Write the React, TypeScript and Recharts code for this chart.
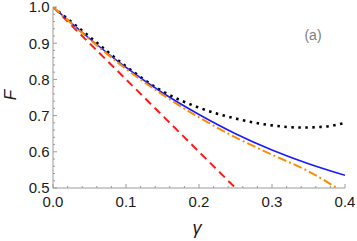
import React from 'react';
import { LineChart, Line, XAxis, YAxis } from 'recharts';

// gamma values and fidelity curves
const gammaBlack = [0, 0.05, 0.1, 0.15, 0.2, 0.25, 0.3, 0.34, 0.37, 0.4];
const fBlack = [1.0, 0.918, 0.836, 0.767, 0.722, 0.692, 0.673, 0.667, 0.669, 0.68];

const gammaBlue = [0, 0.05, 0.1, 0.15, 0.2, 0.25, 0.3, 0.35, 0.4];
const fBlue = [1.0, 0.913, 0.833, 0.763, 0.703, 0.65, 0.605, 0.567, 0.535];

const gammaOrange = [0, 0.05, 0.1, 0.15, 0.2, 0.25, 0.3, 0.35, 0.389];
const fOrange = [1.0, 0.911, 0.829, 0.758, 0.695, 0.64, 0.592, 0.546, 0.5];

const gammaRed = [0, 0.05, 0.1, 0.15, 0.2, 0.25];
const fRed = [1.0, 0.9, 0.8, 0.7, 0.6, 0.5];

const xTicks = Array.from({ length: 21 }, (_, i) => Math.round(i * 2) / 100);
const yTicks = Array.from({ length: 26 }, (_, i) => Math.round(50 + i * 2) / 100);

const toRows = (xs: number[], ys: number[]) => xs.map((g, i) => ({ g, f: ys[i] }));

const isMajor = (v: number) => Math.abs(v * 10 - Math.round(v * 10)) < 1e-6;

const FRAME = '#9a9a9a';
const FONT = 'Liberation Sans, Arial, sans-serif';

const BottomTick = ({ x, y, payload }: any) => {
  const major = isMajor(payload.value);
  return (
    <g>
      <line x1={x} x2={x} y1={y} y2={y - (major ? 4 : 2)} stroke={FRAME} />
      {major && (
        <text x={x} y={y + 19} textAnchor="middle" fontSize={15} fontFamily={FONT} fill="#1a1a1a">
          {payload.value.toFixed(1)}
        </text>
      )}
    </g>
  );
};

const TopTick = ({ x, y, payload }: any) => {
  const major = isMajor(payload.value);
  return <line x1={x} x2={x} y1={y} y2={y + (major ? 4 : 2)} stroke={FRAME} />;
};

const LeftTick = ({ x, y, payload }: any) => {
  const major = isMajor(payload.value);
  return (
    <g>
      <line x1={x} x2={x + (major ? 4 : 2)} y1={y} y2={y} stroke={FRAME} />
      {major && (
        <text x={x - 3.5} y={y + 5.3} textAnchor="end" fontSize={15} fontFamily={FONT} fill="#1a1a1a">
          {payload.value.toFixed(1)}
        </text>
      )}
    </g>
  );
};

const RightTick = ({ x, y, payload }: any) => {
  const major = isMajor(payload.value);
  return <line x1={x} x2={x - (major ? 4 : 2)} y1={y} y2={y} stroke={FRAME} />;
};

export default function App() {
  return (
    <div style={{ position: 'absolute', left: 0, top: 0, width: 357, height: 241, background: '#fff' }}>
      <LineChart
        width={357}
        height={241}
        margin={{ top: 7, right: 12, bottom: 0, left: 0 }}
        style={{ overflow: 'visible' }}
      >
        <XAxis
          xAxisId="b"
          dataKey="g"
          type="number"
          domain={[0, 0.4]}
          ticks={xTicks}
          interval={0}
          height={53}
          tickSize={0}
          tickMargin={0}
          tickLine={false}
          stroke={FRAME}
          tick={<BottomTick />}
          allowDataOverflow
        />
        <XAxis
          xAxisId="t"
          orientation="top"
          dataKey="g"
          type="number"
          domain={[0, 0.4]}
          ticks={xTicks}
          interval={0}
          height={0}
          tickSize={0}
          tickMargin={0}
          tickLine={false}
          stroke={FRAME}
          tick={<TopTick />}
          allowDataOverflow
        />
        <YAxis
          yAxisId="l"
          type="number"
          domain={[0.5, 1]}
          ticks={yTicks}
          interval={0}
          width={53}
          tickSize={0}
          tickMargin={0}
          tickLine={false}
          stroke={FRAME}
          tick={<LeftTick />}
          allowDataOverflow
        />
        <YAxis
          yAxisId="r"
          orientation="right"
          type="number"
          domain={[0.5, 1]}
          ticks={yTicks}
          interval={0}
          width={0}
          tickSize={0}
          tickMargin={0}
          tickLine={false}
          stroke={FRAME}
          tick={<RightTick />}
          allowDataOverflow
        />
        <Line
          xAxisId="b"
          yAxisId="l"
          data={toRows(gammaBlack, fBlack)}
          dataKey="f"
          type="monotone"
          stroke="#000"
          strokeWidth={2.6}
          strokeDasharray="2.5 4.5"
          dot={false}
          isAnimationActive={false}
        />
        <Line
          xAxisId="b"
          yAxisId="l"
          data={toRows(gammaRed, fRed)}
          dataKey="f"
          type="linear"
          stroke="#ff1a1a"
          strokeWidth={2}
          strokeDasharray="8 5"
          dot={false}
          isAnimationActive={false}
        />
        <Line
          xAxisId="b"
          yAxisId="l"
          data={toRows(gammaBlue, fBlue)}
          dataKey="f"
          type="monotone"
          stroke="#1a1aff"
          strokeWidth={1.6}
          dot={false}
          isAnimationActive={false}
        />
        <Line
          xAxisId="b"
          yAxisId="l"
          data={toRows(gammaOrange, fOrange)}
          dataKey="f"
          type="monotone"
          stroke="#ff8c00"
          strokeWidth={2}
          strokeDasharray="9 3 2 3"
          dot={false}
          isAnimationActive={false}
        />
      </LineChart>
      <div
        style={{
          position: 'absolute',
          left: 10,
          top: 95,
          transform: 'translate(-50%, -50%) rotate(-90deg)',
          fontFamily: FONT,
          fontStyle: 'italic',
          fontSize: 17,
          color: '#1a1a1a',
          lineHeight: 1,
        }}
      >
        F
      </div>
      <div
        style={{
          position: 'absolute',
          left: 197,
          top: 229,
          transform: 'translate(-50%, -50%)',
          fontFamily: FONT,
          fontStyle: 'italic',
          fontSize: 18,
          color: '#1a1a1a',
          lineHeight: 1.2,
        }}
      >
        γ
      </div>
      <div
        style={{
          position: 'absolute',
          left: 313,
          top: 35,
          transform: 'translate(-50%, -50%)',
          fontFamily: FONT,
          fontSize: 14,
          color: '#808080',
          lineHeight: 1,
        }}
      >
        (a)
      </div>
    </div>
  );
}
